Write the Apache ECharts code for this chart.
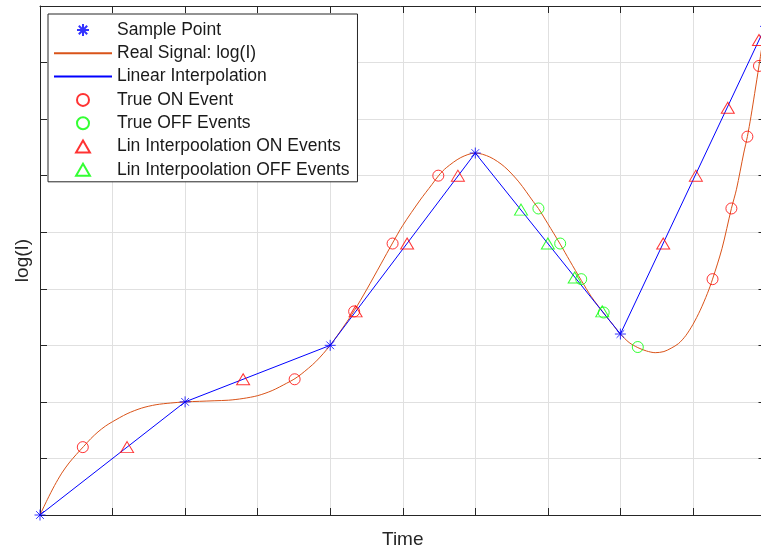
<!DOCTYPE html>
<html>
<head>
<meta charset="utf-8">
<script src="https://cdn.jsdelivr.net/npm/echarts@6/dist/echarts.min.js"></script>
<style>
  html, body { margin: 0; padding: 0; background: #fff; overflow: hidden; }
  #chart { width: 761px; height: 550px; }
</style>
</head>
<body>
<div id="chart"></div>
<script>
// sampled points (stars) and the linear interpolation through them
const sampleX = [0, 2, 4, 6, 8, 10];
const sampleY = [0, 2.0, 3.0, 6.4, 3.2, 8.64];

// real signal log(I)
const realX = [0, 0.1, 0.2, 0.3, 0.4, 0.5, 0.6, 0.7, 0.8, 0.9, 1.0, 1.2, 1.4, 1.6, 1.8, 2.0,
  2.2, 2.4, 2.6, 2.8, 3.0, 3.2, 3.4, 3.5, 3.6, 3.8, 4.0, 4.2, 4.33, 4.5, 4.7, 4.86, 5.0,
  5.24, 5.4, 5.5, 5.6, 5.8, 6.0, 6.2, 6.4, 6.6, 6.8, 6.87, 7.0, 7.17, 7.3, 7.46, 7.6,
  7.77, 7.9, 8.0, 8.12, 8.24, 8.36, 8.48, 8.6, 8.7, 8.8, 8.9, 9.0, 9.1, 9.2, 9.27, 9.4,
  9.53, 9.6, 9.7, 9.75, 9.8, 9.85, 9.91, 9.95, 10];
const realY = [0, 0.27, 0.52, 0.74, 0.92, 1.07, 1.21, 1.35, 1.47, 1.57, 1.65, 1.79, 1.89, 1.95, 1.98, 2.0,
  2.01, 2.02, 2.03, 2.06, 2.11, 2.2, 2.33, 2.4, 2.49, 2.71, 3.0, 3.36, 3.61, 3.98, 4.44, 4.81, 5.12,
  5.57, 5.84, 6.01, 6.14, 6.32, 6.4, 6.33, 6.16, 5.89, 5.54, 5.42, 5.15, 4.79, 4.5, 4.15, 3.86,
  3.57, 3.36, 3.2, 3.05, 2.96, 2.9, 2.87, 2.89, 2.95, 3.03, 3.17, 3.37, 3.62, 3.92, 4.17, 4.71,
  5.42, 5.76, 6.4, 6.69, 7.05, 7.45, 7.94, 8.27, 8.64];

// events
const trueOnX = [0.59, 3.51, 4.33, 4.86, 5.49, 9.27, 9.53, 9.75, 9.91];
const trueOnY = [1.2, 2.4, 3.6, 4.8, 6.0, 4.17, 5.42, 6.69, 7.94];
const trueOffX = [6.87, 7.17, 7.46, 7.77, 8.24];
const trueOffY = [5.42, 4.8, 4.17, 3.58, 2.97];
const linOnX = [1.2, 2.8, 4.35, 5.06, 5.76, 8.59, 9.04, 9.48, 9.91];
const linOnY = [1.2, 2.4, 3.6, 4.8, 6.0, 4.8, 6.0, 7.2, 8.4];
const linOffX = [6.63, 7.0, 7.37, 7.75];
const linOffY = [5.4, 4.8, 4.2, 3.6];

const zip = (xs, ys) => xs.map((x, i) => [x, ys[i]]);

const FONT = '"Liberation Sans", Arial, Helvetica, sans-serif';
const AXIS_COLOR = '#262626';
const GRID_COLOR = '#e0e0e0';
const STAR = 'path://M5,0L5,10M0,5L10,5M1.5,1.5L8.5,8.5M1.5,8.5L8.5,1.5';
const TRI = 'path://M5,0L10,8.66L0,8.66Z';

const baseAxis = {
  min: 0,
  interval: 1,
  axisLine: { show: true, onZero: false, lineStyle: { color: AXIS_COLOR, width: 1 } },
  axisTick: { show: true, inside: true, length: 7, lineStyle: { color: AXIS_COLOR, width: 1 } },
  axisLabel: { show: false }
};

const chart = echarts.init(document.getElementById('chart'), null, { renderer: 'canvas' });

const option = {
  animation: false,
  backgroundColor: '#fff',
  // the axes box runs a few pixels past the right edge of the picture
  grid: { left: 40, top: 6, width: 725.5, height: 509, containLabel: false, outerBoundsMode: 'none' },
  xAxis: [
    Object.assign({}, baseAxis, {
      type: 'value', position: 'bottom', max: 10,
      name: 'Time', nameLocation: 'middle', nameGap: 15,
      nameTextStyle: { fontSize: 19, fontFamily: FONT, color: AXIS_COLOR },
      splitLine: { show: true, lineStyle: { color: GRID_COLOR, width: 1 } }
    }),
    Object.assign({}, baseAxis, {
      type: 'value', position: 'top', max: 10,
      splitLine: { show: false }
    })
  ],
  yAxis: [
    Object.assign({}, baseAxis, {
      type: 'value', position: 'left', max: 9,
      name: 'log(I)', nameLocation: 'middle', nameGap: 8, nameRotate: 90,
      nameTextStyle: { fontSize: 19, fontFamily: FONT, color: AXIS_COLOR },
      splitLine: { show: true, lineStyle: { color: GRID_COLOR, width: 1 } }
    }),
    Object.assign({}, baseAxis, {
      type: 'value', position: 'right', max: 9,
      splitLine: { show: false }
    })
  ],
  legend: {
    orient: 'vertical',
    left: 48,
    top: 14,
    padding: [7, 8, 3, 5],
    itemWidth: 58,
    itemHeight: 12,
    itemGap: 5.3,
    backgroundColor: '#fff',
    borderColor: AXIS_COLOR,
    borderWidth: 1,
    borderRadius: 0,
    textStyle: { fontSize: 17.5, fontFamily: FONT, color: '#1a1a1a' },
    data: [
      { name: 'Sample Point' },
      { name: 'Real Signal: log(I)', itemStyle: { opacity: 0 } },
      { name: 'Linear Interpolation', itemStyle: { opacity: 0 } },
      { name: 'True ON Event' },
      { name: 'True OFF Events' },
      { name: 'Lin Interpoolation ON Events', icon: TRI },
      { name: 'Lin Interpoolation OFF Events', icon: TRI }
    ]
  },
  series: [
    {
      name: 'Real Signal: log(I)', type: 'line', data: zip(realX, realY),
      symbol: 'none', smooth: 0.3, lineStyle: { color: '#D95319', width: 1 },
      itemStyle: { color: 'transparent' }, z: 2
    },
    {
      name: 'Linear Interpolation', type: 'line', data: zip(sampleX, sampleY),
      symbol: 'none', lineStyle: { color: '#0000ff', width: 1 },
      itemStyle: { color: 'transparent' }, z: 3
    },
    {
      name: 'Sample Point', type: 'scatter', data: zip(sampleX, sampleY),
      symbol: STAR, symbolSize: 11,
      itemStyle: { color: 'none', borderColor: '#0000ff', borderWidth: 1 }, z: 5
    },
    {
      name: 'True ON Event', type: 'scatter', data: zip(trueOnX, trueOnY),
      symbol: 'circle', symbolSize: 11,
      itemStyle: { color: 'none', borderColor: '#ff0000', borderWidth: 1 }, z: 4
    },
    {
      name: 'True OFF Events', type: 'scatter', data: zip(trueOffX, trueOffY),
      symbol: 'circle', symbolSize: 11,
      itemStyle: { color: 'none', borderColor: '#00ff00', borderWidth: 1 }, z: 4
    },
    {
      name: 'Lin Interpoolation ON Events', type: 'scatter', data: zip(linOnX, linOnY),
      symbol: 'triangle', symbolSize: [13, 11],
      itemStyle: { color: 'none', borderColor: '#ff0000', borderWidth: 1 }, z: 4
    },
    {
      name: 'Lin Interpoolation OFF Events', type: 'scatter', data: zip(linOffX, linOffY),
      symbol: 'triangle', symbolSize: [13, 11],
      itemStyle: { color: 'none', borderColor: '#00ff00', borderWidth: 1 }, z: 4
    }
  ]
};

chart.setOption(option);
</script>
</body>
</html>
